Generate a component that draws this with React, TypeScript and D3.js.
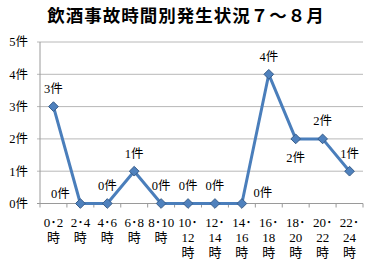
import React from "react";
import * as d3 from "d3";

const title = "飲酒事故時間別発生状況７～８月";
const categories = ["0･2時", "2･4時", "4･6時", "6･8時", "8･10時", "10･12時", "12･14時", "14･16時", "16･18時", "18･20時", "20･22時", "22･24時"];
const categoryLines = [
  ["0･2", "時"], ["2･4", "時"], ["4･6", "時"], ["6･8", "時"], ["8･10", "時"],
  ["10･", "12", "時"], ["12･", "14", "時"], ["14･", "16", "時"], ["16･", "18", "時"],
  ["18･", "20", "時"], ["20･", "22", "時"], ["22･", "24", "時"],
];
const values = [3, 0, 0, 1, 0, 0, 0, 0, 4, 2, 2, 1];
const yTicks = [0, 1, 2, 3, 4, 5];
const labelPlacement = ["above", "left", "above", "above", "above", "above", "above", "right", "above", "below", "above", "above"];

const W = 373, H = 264;
const FONT = "'Liberation Serif', 'DejaVu Serif', 'Noto Sans CJK JP', serif";

export default function App() {
  const x = d3.scaleBand<string>().domain(categories).range([40, 363]).padding(0);
  const y = d3.scaleLinear().domain([0, 5]).range([203.5, 42]);
  const cx = (c: string) => (x(c) ?? 0) + x.bandwidth() / 2;
  const line = d3.line<number>().x((_, i) => cx(categories[i])).y((v) => y(v));
  const diamond = d3.symbol().type(d3.symbolDiamond2).size(60)();
  const off = (p: string) => {
    if (p === "left") return [-20, -10];
    if (p === "right") return [21, -11];
    if (p === "below") return [0, 19];
    return [0, -18];
  };
  const boundaries = categories.map((c) => x(c) ?? 0).concat([363]);
  return (
    <svg width={W} height={H} style={{ display: "block", position: "absolute", left: 0, top: 0 }} fontFamily={FONT}>
      <rect width={W} height={H} fill="#fff" />
      <text x={186} y={22} textAnchor="middle" fontSize={17.5} fontWeight="bold" fontFamily="'Noto Sans CJK JP', sans-serif" fill="#000" letterSpacing={1}>
        {title}
      </text>
      {yTicks.map((t) => (
        <g key={t}>
          <line x1={37} x2={363} y1={y(t)} y2={y(t)} stroke={t === 0 ? "#9a9a9a" : "#b8b8b8"} strokeWidth={1} />
          <text x={28} y={y(t)} dy="0.35em" textAnchor="end" fontSize={12.5} fill="#000">{t}件</text>
        </g>
      ))}
      <line x1={40} x2={40} y1={y(5)} y2={y(0)} stroke="#9a9a9a" />
      {boundaries.map((b, i) => (
        <line key={i} x1={b} x2={b} y1={y(0)} y2={y(0) + 4} stroke="#9a9a9a" />
      ))}
      <path d={line(values) ?? ""} fill="none" stroke="#4a7ebb" strokeWidth={3} strokeLinejoin="round" />
      {values.map((v, i) => (
        <path key={i} d={diamond ?? ""} transform={`translate(${cx(categories[i])},${y(v)})`} fill="#4f81bd" stroke="#385d8a" strokeWidth={1} />
      ))}
      {values.map((v, i) => {
        const [dx, dy] = off(labelPlacement[i]);
        return (
          <text key={i} x={cx(categories[i]) + dx} y={y(v) + dy} dy="0.35em" textAnchor="middle" fontSize={12.5} fill="#000">
            {v}件
          </text>
        );
      })}
      {categoryLines.map((ls, i) => (
        <text key={i} textAnchor="middle" fontSize={13} fill="#000">
          {ls.map((s, j) => (
            <tspan key={j} x={cx(categories[i])} y={222 + j * 15} dy="0.35em">{s}</tspan>
          ))}
        </text>
      ))}
    </svg>
  );
}
